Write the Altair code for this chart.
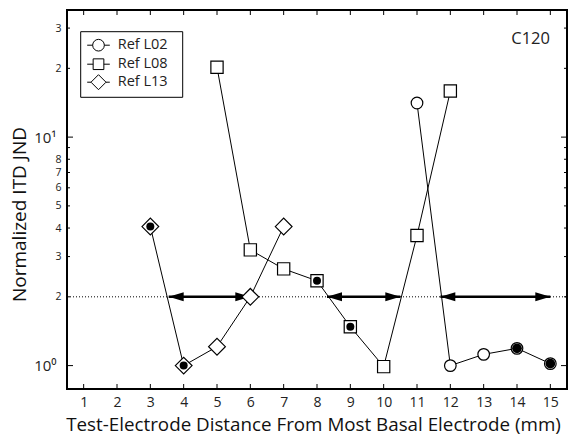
import altair as alt
import pandas as pd

# ---- data ----
series_names = ["Ref L02", "Ref L08", "Ref L13"]

l02_x = [11, 12, 13, 14, 15]
l02_y = [14.1, 1.0, 1.12, 1.19, 1.02]
l02_filled = [14, 15]

l08_x = [5, 6, 7, 8, 9, 10, 11, 12]
l08_y = [20.2, 3.21, 2.65, 2.35, 1.48, 0.99, 3.71, 15.9]
l08_filled = [8, 9]

l13_x = [3, 4, 5, 6, 7]
l13_y = [4.06, 1.0, 1.21, 2.0, 4.06]
l13_filled = [3, 4]

arrow_start = [3.55, 8.3, 11.7]
arrow_end = [6.0, 10.5, 15.0]
criterion = 2.0

x_ticks = list(range(1, 16))
y_major = [1, 10]
y_minor = [2, 3, 4, 5, 6, 7, 8, 9, 20, 30]
panel_label = "C120"

# ---- tables ----
rows = []
for name, xs, ys, fl in [("Ref L02", l02_x, l02_y, l02_filled),
                         ("Ref L08", l08_x, l08_y, l08_filled),
                         ("Ref L13", l13_x, l13_y, l13_filled)]:
    for xv, yv in zip(xs, ys):
        rows.append({"series": name, "x": xv, "y": yv, "filled": xv in fl})
df = pd.DataFrame(rows)
arrows = pd.DataFrame({"x1": arrow_start, "x2": arrow_end, "y": [criterion] * 3})

W, H = 500, 379
FONT = "Open Sans"
xscale = alt.Scale(domain=[0.5, 15.5], nice=False, zero=False)
yscale = alt.Scale(type="log", domain=[0.79, 36], nice=False, zero=False)

xaxis = alt.Axis(values=x_ticks, title="Test-Electrode Distance From Most Basal Electrode (mm)",
                 grid=False, domain=False, ticks=False, labelPadding=6,
                 labelFont=FONT, labelFontSize=14, labelColor="#222",
                 titleFont=FONT, titleFontSize=18.8, titleFontWeight="normal", titleColor="#111",
                 titlePadding=6, titleX=246)
yaxis = alt.Axis(values=y_major + y_minor, title="Normalized ITD JND",
                 grid=False, domain=False, ticks=False,
                 labelPadding={"condition": {"test": "datum.value == 1 || datum.value == 10", "value": 11}, "value": 6},
                 labelExpr="datum.value == 1 ? '10\u2070' : datum.value == 10 ? '10\u00b9' : datum.value == 9 ? '' : datum.value >= 20 ? format(datum.value / 10, 'd') : format(datum.value, 'd')",
                 labelFont=FONT, labelColor="#222",
                 labelFontSize={"condition": {"test": "datum.value == 1 || datum.value == 10", "value": 15}, "value": 10.5},
                 titleFont=FONT, titleFontSize=19, titleFontWeight="normal", titleColor="#111",
                 titleX=-48, titleY=204, titleAngle=-90, titleBaseline="middle", titleAlign="center")


def X(field):
    return alt.X(field, type="quantitative", scale=xscale, axis=xaxis)


def Y(field):
    return alt.Y(field, type="quantitative", scale=yscale, axis=yaxis)


crit_line = alt.Chart(pd.DataFrame({"y": [criterion]})).mark_rule(
    color="black", strokeWidth=1, strokeDash=[1, 2]
).encode(y=Y("y"), x=alt.value(0), x2=alt.value(W))

lines = alt.Chart(df).mark_line(color="black", strokeWidth=1).encode(
    x=X("x"), y=Y("y"), detail="series:N", order="x:Q"
)

shaft = alt.Chart(arrows).mark_rule(color="black", strokeWidth=2.5).encode(
    x=X("x1"), x2="x2", y=Y("y")
)
head_r = alt.Chart(arrows).mark_point(
    shape="M0,0L-1,-0.3L-1,0.3Z", filled=True, color="black", opacity=1, size=900
).encode(x=X("x2"), y=Y("y"))
head_l = alt.Chart(arrows).mark_point(
    shape="M0,0L1,-0.3L1,0.3Z", filled=True, color="black", opacity=1, size=900
).encode(x=X("x1"), y=Y("y"))

marker_layers = []
for name, shape, size in [("Ref L02", "circle", 135), ("Ref L08", "square", 150), ("Ref L13", "diamond", 280)]:
    marker_layers.append(
        alt.Chart(df[df.series == name]).mark_point(
            shape=shape, size=size, filled=True, fill="white", stroke="black",
            strokeWidth=1.2, opacity=1
        ).encode(x=X("x"), y=Y("y"))
    )

dots_circ = alt.Chart(df[df.filled & (df.series == "Ref L02")]).mark_point(
    shape="circle", size=95, filled=True, color="black", opacity=1
).encode(x=X("x"), y=Y("y"))
dots_other = alt.Chart(df[df.filled & (df.series != "Ref L02")]).mark_point(
    shape="circle", size=64, filled=True, color="black", opacity=1
).encode(x=X("x"), y=Y("y"))

xt = pd.DataFrame({"x": x_ticks})
tick_b = alt.Chart(xt).mark_rule(color="black", strokeWidth=1).encode(x=X("x"), y=alt.value(H), y2=alt.value(H - 5))
tick_t = alt.Chart(xt).mark_rule(color="black", strokeWidth=1).encode(x=X("x"), y=alt.value(0), y2=alt.value(5))
ymaj = pd.DataFrame({"v": y_major})
ymin = pd.DataFrame({"v": y_minor})
tick_lmaj = alt.Chart(ymaj).mark_rule(color="black", strokeWidth=1).encode(y=Y("v"), x=alt.value(0), x2=alt.value(6))
tick_lmin = alt.Chart(ymin).mark_rule(color="black", strokeWidth=1).encode(y=Y("v"), x=alt.value(0), x2=alt.value(3))
tick_rmaj = alt.Chart(ymaj).mark_rule(color="black", strokeWidth=1).encode(y=Y("v"), x=alt.value(W), x2=alt.value(W - 6))
tick_rmin = alt.Chart(ymin).mark_rule(color="black", strokeWidth=1).encode(y=Y("v"), x=alt.value(W), x2=alt.value(W - 3))

label = alt.Chart(pd.DataFrame({"t": [panel_label]})).mark_text(
    align="right", baseline="middle", font=FONT, fontSize=16.5, color="#222"
).encode(text="t:N", x=alt.value(483), y=alt.value(29))

# legend frame (decorative box behind the legend entries)
legend_box = alt.Chart(pd.DataFrame({"k": [0]})).mark_rect(
    fill="white", stroke="black", strokeWidth=1
).encode(x=alt.value(13.7), x2=alt.value(115.7), y=alt.value(21.7), y2=alt.value(87.3))

legend_paths = [
    "M-0.70,0L-0.155,0M1.015,0L1.56,0M-0.155,0A0.585,0.585,0,1,0,1.015,0A0.585,0.585,0,1,0,-0.155,0Z",
    "M-0.70,0L-0.105,0M0.965,0L1.56,0M-0.105,-0.535L0.965,-0.535L0.965,0.535L-0.105,0.535Z",
    "M-0.70,0L-0.32,0M1.18,0L1.56,0M-0.32,0L0.43,-0.75L1.18,0L0.43,0.75Z",
]
legend_layer = alt.Chart(df).mark_point(opacity=0, filled=False).encode(
    x=X("x"), y=Y("y"),
    shape=alt.Shape("series:N", scale=alt.Scale(domain=series_names, range=legend_paths),
                    legend=alt.Legend(orient="none", legendX=13.7, legendY=21.7, title=None,
                                      padding=3,
                                      labelFont=FONT, labelFontSize=14.5, labelColor="#222",
                                      labelOffset=13, rowPadding=0, symbolSize=400,
                                      symbolStrokeColor="black", symbolStrokeWidth=1,
                                      symbolOpacity=1)),
)

chart = alt.layer(
    crit_line, lines, shaft, head_l, head_r, *marker_layers, dots_circ, dots_other,
    tick_b, tick_t, tick_lmaj, tick_lmin, tick_rmaj, tick_rmin, label, legend_box, legend_layer
).properties(
    width=W, height=H,
    autosize=alt.AutoSizeParams(type="none"),
    padding={"left": 67, "top": 10, "right": 2, "bottom": 55},
).configure_view(stroke="black", strokeWidth=2)

chart.save("out.html", embed_options={"renderer": "svg", "actions": False})
